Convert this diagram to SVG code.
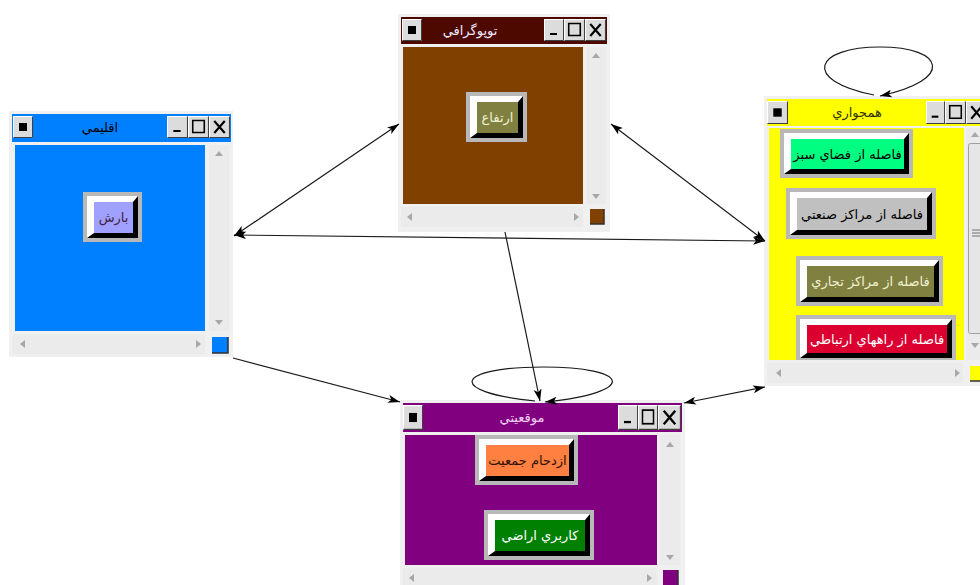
<svg xmlns="http://www.w3.org/2000/svg" width="980" height="585" viewBox="0 0 980 585">
<style>
.frame{fill:#f0f0f0}
.scroll{fill:#ebebeb}
.arr{fill:#a8a8a8}
.conn{stroke:#1a1a1a;stroke-width:1.2;fill:none}
.ttl{font-family:"DejaVu Sans","Noto Sans",sans-serif;font-size:13px;text-anchor:middle}
.bt{font-family:"DejaVu Sans","Noto Sans",sans-serif;font-size:13px;text-anchor:middle}
.rim{fill:#b8b8b8}
.hi{fill:#ffffff}
.sh{fill:#000000}
.cornerEdge{fill:none;stroke:#303030;stroke-width:1.5}
</style>
<defs>
<marker id="ah" viewBox="0 0 12 8" refX="12" refY="4" markerWidth="12" markerHeight="8" markerUnits="userSpaceOnUse" orient="auto-start-reverse">
<path d="M0,0 L12,4 L0,8 L3,4 z" fill="#000"/>
</marker>
<symbol id="tb" viewBox="0 0 20 22" preserveAspectRatio="none">
<rect width="20" height="22" fill="#dcdcdc"/>
<path d="M0.5,21.5 V0.5 H19.5" stroke="#ffffff" fill="none"/>
<path d="M0.5,21.5 H19.5 V0.5" stroke="#404040" fill="none"/>
</symbol>
<symbol id="sys" viewBox="0 0 20 22" preserveAspectRatio="none">
<use href="#tb" width="20" height="22"/>
<rect x="6" y="7" width="8" height="8" fill="#000"/>
</symbol>
<symbol id="min" viewBox="0 0 20 22" preserveAspectRatio="none">
<use href="#tb" width="20" height="22"/>
<rect x="6" y="14" width="7" height="2" fill="#000"/>
</symbol>
<symbol id="max" viewBox="0 0 20 22" preserveAspectRatio="none">
<use href="#tb" width="20" height="22"/>
<rect x="4.5" y="4.5" width="11" height="12" fill="none" stroke="#000" stroke-width="1.5"/>
</symbol>
<symbol id="cls" viewBox="0 0 20 22" preserveAspectRatio="none">
<use href="#tb" width="20" height="22"/>
<path d="M5,5 L15,17 M15,5 L5,17" stroke="#000" stroke-width="2"/>
</symbol>
</defs>
<rect width="980" height="585" fill="#ffffff"/>

<g id="node-eqlimi">
<rect class="frame" x="9" y="111" width="224" height="246"/>
<rect x="12" y="114" width="219" height="28" fill="#0080ff"/>
<use href="#sys" x="13" y="116" width="20" height="22"/>
<use href="#min" x="167" y="116" width="21" height="22"/>
<use href="#max" x="188" y="116" width="21" height="22"/>
<use href="#cls" x="209" y="116" width="21" height="22"/>
<text class="ttl" x="100" y="132" fill="#000">اقليمي</text>
<rect x="15" y="145" width="190" height="186" fill="#0080ff"/>
<rect class="scroll" x="209" y="145" width="20" height="186"/>
<polygon class="arr" points="215,156 219,151 223,156"/>
<polygon class="arr" points="215,320 219,325 223,320"/>
<rect class="scroll" x="12" y="334" width="193" height="20"/>
<polygon class="arr" points="25,340 20,344 25,348"/>
<polygon class="arr" points="196,340 201,344 196,348"/>
<rect x="212" y="337" width="16" height="16" fill="#0080ff"/>
<path class="cornerEdge" d="M212,353 H228 V337"/>
<rect class="rim" x="83" y="192" width="59" height="50"/>
<rect class="hi" x="87" y="196" width="51" height="42"/>
<polygon class="sh" points="138,196 138,238 87,238 94,233 133,233 133,202"/>
<rect x="94" y="202" width="39" height="31" fill="#a0a0ff"/>
<text class="bt" x="113.5" y="222" fill="#402040">بارش</text>
</g>

<g id="node-topography">
<rect class="frame" x="398" y="14" width="212" height="218"/>
<rect x="401" y="17" width="206" height="27" fill="#4d0800"/>
<use href="#sys" x="402" y="19" width="20" height="22"/>
<use href="#min" x="544" y="19" width="20" height="22"/>
<use href="#max" x="564" y="19" width="21" height="22"/>
<use href="#cls" x="585" y="19" width="21" height="22"/>
<text class="ttl" x="470" y="35" fill="#f0e8ff">توپوگرافي</text>
<rect x="403" y="47" width="180" height="157" fill="#804000"/>
<rect class="scroll" x="587" y="47" width="19" height="157"/>
<polygon class="arr" points="592,58 596,53 600,58"/>
<polygon class="arr" points="592,194 596,199 600,194"/>
<rect class="scroll" x="401" y="207" width="182" height="20"/>
<polygon class="arr" points="412,213 407,217 412,221"/>
<polygon class="arr" points="574,213 579,217 574,221"/>
<rect x="590" y="209" width="14" height="15" fill="#804000"/>
<path class="cornerEdge" d="M590,224 H604 V209"/>
<rect class="rim" x="466" y="92" width="61" height="50"/>
<rect class="hi" x="470" y="96" width="53" height="42"/>
<polygon class="sh" points="523,96 523,138 470,138 477,133 518,133 518,102"/>
<rect x="477" y="102" width="41" height="31" fill="#808040"/>
<text class="bt" x="497.5" y="122" fill="#f0f0d0">ارتفاع</text>
</g>

<g id="node-hamjavari">
<rect class="frame" x="764" y="96" width="216" height="290"/>
<rect x="767" y="99" width="213" height="27" fill="#ffff00"/>
<use href="#sys" x="767" y="101" width="21" height="23"/>
<use href="#min" x="926" y="101" width="19" height="23"/>
<use href="#max" x="945" y="101" width="21" height="23"/>
<use href="#cls" x="966" y="101" width="21" height="23"/>
<text class="ttl" x="857" y="117" fill="#333300">همجواري</text>
<rect x="769" y="128" width="195" height="232" fill="#ffff00"/>
<rect class="scroll" x="966" y="128" width="14" height="232"/>
<polygon class="arr" points="971,137 975,132 979,137"/>
<polygon class="arr" points="971,343 975,348 979,343"/>
<rect x="968.5" y="143.5" width="14" height="190" rx="2" fill="#e6e6e6" stroke="#a0a0a0"/>
<path d="M972,230 H980 M972,233 H980 M972,236 H980" stroke="#707070" stroke-width="1"/>
<rect class="scroll" x="767" y="363" width="196" height="20"/>
<polygon class="arr" points="781,369 776,373 781,377"/>
<polygon class="arr" points="955,369 960,373 955,377"/>
<rect x="970" y="366" width="10" height="15" fill="#ffff00"/>
<path class="cornerEdge" d="M970,381 H980"/>
<rect class="rim" x="780" y="129" width="133" height="49"/>
<rect class="hi" x="784" y="133" width="125" height="41"/>
<polygon class="sh" points="909,133 909,174 784,174 791,169 904,169 904,139"/>
<rect x="791" y="139" width="113" height="30" fill="#00ff80"/>
<text class="bt" x="847.5" y="158.5" fill="#000">فاصله از فضاي سبز</text>
<rect class="rim" x="786" y="188" width="150" height="51"/>
<rect class="hi" x="790" y="192" width="142" height="43"/>
<polygon class="sh" points="932,192 932,235 790,235 797,230 927,230 927,198"/>
<rect x="797" y="198" width="130" height="32" fill="#c0c0c0"/>
<text class="bt" x="862" y="218.5" fill="#000">فاصله از مراكز صنعتي</text>
<rect class="rim" x="796" y="256" width="147" height="50"/>
<rect class="hi" x="800" y="260" width="139" height="42"/>
<polygon class="sh" points="939,260 939,302 800,302 807,297 934,297 934,266"/>
<rect x="807" y="266" width="127" height="31" fill="#808040"/>
<text class="bt" x="870.5" y="286" fill="#f0f0d0">فاصله از مراكز تجاري</text>
<rect class="rim" x="796" y="315" width="160" height="45"/>
<rect class="hi" x="800" y="319" width="152" height="39"/>
<polygon class="sh" points="952,319 952,358 800,358 807,353 947,353 947,325"/>
<rect x="807" y="325" width="140" height="28" fill="#dc0030"/>
<text class="bt" x="877" y="344" fill="#ffffff">فاصله از راههاي ارتباطي</text>
</g>

<g id="node-mowqeiyati">
<rect class="frame" x="400" y="400" width="285" height="185"/>
<rect x="403" y="403" width="279" height="29" fill="#800080"/>
<use href="#sys" x="403" y="405" width="20" height="25"/>
<use href="#min" x="618" y="405" width="20" height="25"/>
<use href="#max" x="638" y="405" width="20" height="25"/>
<use href="#cls" x="658" y="405" width="23" height="25"/>
<text class="ttl" x="522" y="422" fill="#f0d0f0">موقعيتي</text>
<rect x="405" y="435" width="252" height="130" fill="#800080"/>
<rect class="scroll" x="660" y="435" width="20" height="130"/>
<polygon class="arr" points="666,447 670,442 674,447"/>
<polygon class="arr" points="666,555 670,560 674,555"/>
<rect class="scroll" x="403" y="568" width="254" height="17"/>
<polygon class="arr" points="414,574 409,578 414,582"/>
<polygon class="arr" points="647,574 652,578 647,582"/>
<rect x="663" y="570" width="15" height="15" fill="#800080"/>
<path class="cornerEdge" d="M678,570 V585"/>
<rect class="rim" x="475" y="435" width="103" height="50"/>
<rect class="hi" x="479" y="439" width="95" height="42"/>
<polygon class="sh" points="574,439 574,481 479,481 486,476 569,476 569,445"/>
<rect x="486" y="445" width="83" height="31" fill="#ff8040"/>
<text class="bt" x="527.5" y="465" fill="#301000">ازدحام جمعيت</text>
<rect class="rim" x="484" y="510" width="110" height="50"/>
<rect class="hi" x="488" y="514" width="102" height="42"/>
<polygon class="sh" points="590,514 590,556 488,556 495,551 585,551 585,520"/>
<rect x="495" y="520" width="90" height="31" fill="#008000"/>
<text class="bt" x="540" y="540" fill="#ffffff">كاربري اراضي</text>
</g>

<g id="connectors">
<line class="conn" x1="234" y1="236" x2="399" y2="124" marker-start="url(#ah)" marker-end="url(#ah)"/>
<line class="conn" x1="234" y1="235" x2="765" y2="241" marker-start="url(#ah)" marker-end="url(#ah)"/>
<line class="conn" x1="611" y1="124" x2="765" y2="241" marker-start="url(#ah)" marker-end="url(#ah)"/>
<line class="conn" x1="505" y1="232" x2="540" y2="401" marker-end="url(#ah)"/>
<line class="conn" x1="233" y1="358" x2="400" y2="402" marker-end="url(#ah)"/>
<line class="conn" x1="684" y1="403" x2="765" y2="387" marker-start="url(#ah)" marker-end="url(#ah)"/>
<path class="conn" d="M874,95 C800,80 815,47 880,47 C945,47 955,80 880,96" marker-end="url(#ah)"/>
<path class="conn" d="M535,401 C445,392 455,367 543,367 C630,367 640,392 545,402" marker-end="url(#ah)"/>
</g>
</svg>
